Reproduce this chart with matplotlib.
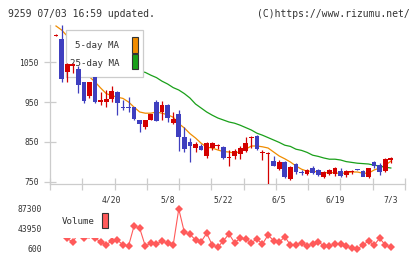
import matplotlib.pyplot as plt
import numpy as np
from matplotlib.patches import Rectangle

# daily candles, 61 sessions ending 7/3
opens = [1115, 1107, 1025, 1040, 1032, 1000, 965, 1012, 950, 950,
         958, 975, 938, 938, 937, 905, 887, 905, 950, 925,
         942, 898, 920, 862, 850, 835, 840, 815, 835, 840,
         837, 811, 815, 820, 827, 861, 866, 822, 819, 803,
         783, 800, 758, 795, 773, 770, 785, 780, 762, 770,
         770, 777, 767, 776, 781, 777, 762, 800, 792, 778, 805]
highs = [1120, 1142, 1047, 1047, 1040, 1001, 1001, 1013, 975, 980,
         990, 978, 955, 962, 938, 906, 905, 920, 955, 953,
         944, 925, 930, 887, 860, 850, 845, 850, 850, 845,
         840, 830, 832, 840, 862, 865, 868, 830, 825, 815,
         805, 802, 790, 797, 780, 782, 790, 782, 778, 782,
         787, 785, 780, 780, 782, 780, 786, 802, 798, 810, 812]
lows = [1115, 1000, 1000, 1022, 972, 948, 960, 948, 942, 937,
        950, 918, 930, 925, 905, 875, 882, 905, 902, 905,
        900, 896, 827, 825, 800, 825, 830, 810, 830, 833,
        808, 790, 808, 808, 825, 835, 830, 805, 745, 790,
        780, 760, 755, 770, 767, 768, 770, 766, 760, 768,
        765, 762, 762, 770, 779, 765, 760, 785, 768, 775, 798]
closes = [1118, 1007, 1045, 1044, 992, 952, 1000, 950, 955, 958,
          977, 947, 936, 936, 907, 895, 905, 920, 903, 942,
          910, 908, 862, 832, 840, 845, 830, 847, 847, 841,
          810, 812, 828, 835, 848, 863, 833, 823, 821, 790,
          800, 762, 788, 775, 772, 780, 772, 768, 775, 779,
          785, 765, 777, 777, 780, 763, 785, 790, 775, 807, 810]

ma5 = [1140, 1130, 1115, 1095, 1065, 1040, 1013, 1000, 985, 971,
       966, 962, 959, 950, 937, 925, 922, 922, 925, 922,
       918, 912, 896, 885, 871, 860, 847, 837, 835, 830,
       826, 825, 822, 826, 832, 840, 840, 838, 835, 825,
       815, 808, 800, 790, 782, 777, 777, 775, 772, 775,
       772, 772, 772, 775, 775, 772, 772, 780, 785, 792, 802]
ma25 = [np.nan] * 13 + [
    1035, 1030, 1027, 1024, 1017, 1011, 1002,
    995, 986, 980, 971, 960, 945, 935, 925, 917, 910,
    905, 900, 897, 892, 886, 880, 872, 867, 861, 855,
    849, 842, 839, 832, 829, 824, 817, 814, 810, 807,
    807, 805, 801, 799, 797, 796, 795, 792, 790, 787, 785]

volume = [40000, 45000, 23800, 15100, 35000, 25100, 30000, 23800, 16400, 9300,
          18600, 20100, 9300, 7100, 51100, 45500, 7100, 13000, 11400, 17900,
          13000, 9300, 87300, 36800, 32500, 20100, 16400, 34600, 9300, 4300,
          18600, 33100, 14300, 23800, 21600, 14300, 22300, 11400, 30900, 18600,
          15100, 27300, 9300, 9300, 14300, 7100, 11400, 16400, 7100, 7100,
          11400, 11400, 7100, 2100, 600, 9300, 17900, 9300, 23800, 9300, 4300]

date_pos = [10, 20, 30, 40, 50, 60]
date_labels = ['4/20', '5/8', '5/22', '6/5', '6/19', '7/3']
price_ticks = [750, 850, 950, 1050]
vol_ticks = [600, 43950, 87300]

UP = '#d40000'
DOWN = '#3f3fbf'
GRID = '#cccccc'
TXT = '#333333'
MONO = 'DejaVu Sans Mono'

fig = plt.figure(figsize=(4.2, 2.59), dpi=100)

ax = fig.add_axes([50 / 420, 1 - 184 / 259, 355 / 420, 159 / 259])
x = np.arange(len(closes))
o = np.array(opens, float)
c = np.array(closes, float)
colors = [UP if cc >= oo else DOWN for oo, cc in zip(o, c)]
bottom = np.minimum(o, c)
height = np.maximum(np.abs(c - o), 2.5)

ax.vlines(x, lows, highs, colors=colors, linewidth=0.9, zorder=4)
ax.bar(x, height, bottom=bottom, width=0.85, color=colors, linewidth=0, zorder=5)
ax.plot(x, ma5, color='#f08c00', linewidth=0.9, zorder=2)
ax.plot(x, ma25, color='#1aa01a', linewidth=0.9, zorder=2)

ax.set_xlim(-1.075, 62.54)
ax.set_ylim(745, 1142.5)
for s in ['top', 'right']:
    ax.spines[s].set_visible(False)
for s in ['left', 'bottom']:
    ax.spines[s].set_color(GRID)
    ax.spines[s].set_linewidth(0.9)

ax.set_yticks(price_ticks)
ax.set_yticklabels([str(t) for t in price_ticks], family=MONO)
ax.tick_params(axis='y', direction='inout', length=8, width=0.9, color=GRID,
               labelcolor=TXT, labelsize=5.8, pad=4)
ax.set_xticks(date_pos)
ax.set_xticklabels(date_labels, family=MONO)
ax.tick_params(axis='x', which='major', length=0, labelcolor=TXT, labelsize=5.8, pad=8)
ax.set_xticks(np.linspace(-1.075, 62.54, 12), minor=True)
ax.tick_params(axis='x', which='minor', direction='inout', length=8, width=0.9, color=GRID)

# legend box: above the MA lines, below the candles
ax.add_patch(Rectangle((0.045, 0.673), 0.217, 0.296, transform=ax.transAxes,
                       facecolor='white', edgecolor=GRID, linewidth=0.9, zorder=3))
ax.text(0.195, 0.868, '5-day MA', transform=ax.transAxes, ha='right', va='center',
        fontsize=6.6, family=MONO, color=TXT, zorder=3.5)
ax.text(0.195, 0.761, '25-day MA', transform=ax.transAxes, ha='right', va='center',
        fontsize=6.6, family=MONO, color=TXT, zorder=3.5)
ax.add_patch(Rectangle((0.231, 0.824), 0.017, 0.1, transform=ax.transAxes,
                       facecolor='#f08c00', edgecolor='#333333', linewidth=0.8, zorder=3.5))
ax.add_patch(Rectangle((0.231, 0.723), 0.017, 0.095, transform=ax.transAxes,
                       facecolor='#1aa01a', edgecolor='#333333', linewidth=0.8, zorder=3.5))

# volume panel
vx = fig.add_axes([50 / 420, 1 - 255 / 259, 355 / 420, 52 / 259])
vx.plot(x, volume, color='#ff5a5a', linewidth=0.8, marker='D', markersize=4.0,
        markeredgewidth=0, zorder=2)
vx.set_xlim(-1.075, 62.54)
vx.set_ylim(-12405, 100305)
for s in vx.spines.values():
    s.set_visible(False)
vx.set_xticks([])
vx.set_yticks(vol_ticks)
vx.set_yticklabels([str(t) for t in vol_ticks], family=MONO)
vx.tick_params(axis='y', length=0, labelcolor=TXT, labelsize=5.8, pad=6)
vx.add_patch(Rectangle((0.0, 0.33), 0.18, 0.67, transform=vx.transAxes,
                       facecolor='white', edgecolor='none', zorder=3))
vx.text(0.127, 0.635, 'Volume', transform=vx.transAxes, ha='right', va='center',
        fontsize=6.6, family=MONO, color=TXT, zorder=4)
vx.add_patch(Rectangle((0.146, 0.52), 0.017, 0.29, transform=vx.transAxes,
                       facecolor='#ff5a5a', edgecolor='#333333', linewidth=0.8, zorder=4))

fig.text(8 / 420, 1 - 14 / 259, '9259 07/03 16:59 updated.', ha='left', va='center',
         fontsize=7.0, family=MONO, color=TXT)
fig.text(410 / 420, 1 - 14 / 259, '(C)https://www.rizumu.net/', ha='right', va='center',
         fontsize=7.0, family=MONO, color=TXT)

fig.savefig('out.png', dpi=100)
